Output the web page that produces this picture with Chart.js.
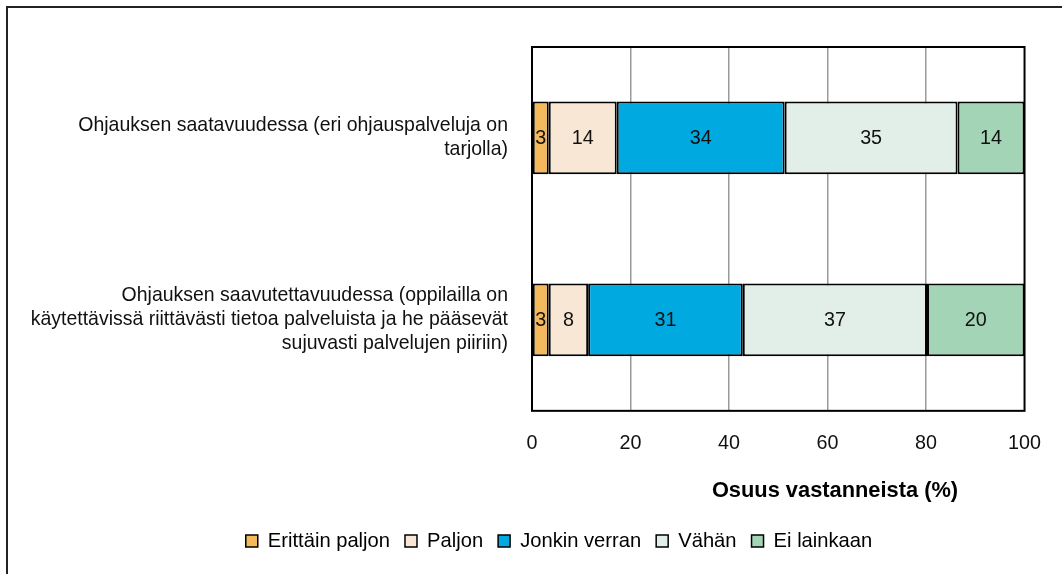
<!DOCTYPE html>
<html>
<head>
<meta charset="utf-8">
<script src="https://cdn.jsdelivr.net/npm/chart.js@4.4.1/dist/chart.umd.min.js"></script>
<style>
  html, body { margin: 0; padding: 0; background: #fff; }
  #wrap { position: relative; width: 1062px; height: 574px; }
</style>
</head>
<body>
<div id="wrap"><canvas id="c" width="1062" height="574"></canvas></div>
<script>
// ---- data ----
const categories = [
  ["Ohjauksen saatavuudessa (eri ohjauspalveluja on", "tarjolla)"],
  ["Ohjauksen saavutettavuudessa (oppilailla on", "käytettävissä riittävästi tietoa palveluista ja he pääsevät", "sujuvasti palvelujen piiriin)"]
];
const seriesNames = ["Erittäin paljon", "Paljon", "Jonkin verran", "Vähän", "Ei lainkaan"];
const erittainPaljon = [3.4, 3.4];
const paljon = [13.8, 8.0];
const jonkinVerran = [34.1, 31.4];
const vahan = [35.1, 37.4];
const eiLainkaan = [13.6, 19.8];
const xTicks = [0, 20, 40, 60, 80, 100];
const axisTitle = "Osuus vastanneista (%)";

const colors = ["#F4B95A", "#F8E7D5", "#00A9E0", "#E2EFE8", "#A2D4B5"];
const seriesValues = [erittainPaljon, paljon, jonkinVerran, vahan, eiLainkaan];

// pick a condensed font if available
function fontAvailable(name) {
  const c = document.createElement('canvas').getContext('2d');
  const s = 'Erittäin paljon vastanneista 0123456789';
  c.font = '40px monospace';
  const w1 = c.measureText(s).width;
  c.font = "40px '" + name + "', monospace";
  const w2 = c.measureText(s).width;
  return Math.abs(w1 - w2) > 0.5;
}
let FONT = "'Liberation Sans', Arial, sans-serif";
let K = 0.84;
for (const f of ['Liberation Sans Narrow', 'Arial Narrow']) {
  if (fontAvailable(f)) { FONT = "'" + f + "', 'Liberation Sans', sans-serif"; K = 1; break; }
}
const SZ_LABEL = 23.2 * K;
const SZ_TICK = 23.5 * K;
const SZ_DATA = 23.5 * K;
const SZ_LEGEND = 24 * K;
const SZ_TITLE = 26 * K;

const framePlugin = {
  id: 'frame',
  afterLayout(chart) {
    const lg = chart.legend;
    if (!lg) return;
    const itemH = Math.max(SZ_LEGEND, 12);
    const desiredTop = 541 - lg.options.labels.padding - itemH / 2;
    const dy = desiredTop - lg.top;
    lg.top += dy; lg.bottom += dy;
    const dx = 559 - (lg.left + lg.right) / 2;
    lg.left += dx; lg.right += dx;
  },
  beforeDraw(chart) {
    const ctx = chart.ctx;
    ctx.save();
    ctx.fillStyle = '#fff';
    ctx.fillRect(0, 0, chart.width, chart.height);
    ctx.strokeStyle = '#222';
    ctx.lineWidth = 2;
    ctx.beginPath();
    ctx.moveTo(7, chart.height);
    ctx.lineTo(7, 7);
    ctx.lineTo(chart.width, 7);
    ctx.stroke();
    ctx.restore();
  },
  beforeDatasetsDraw(chart) {
    const a = chart.chartArea;
    const ctx = chart.ctx;
    ctx.save();
    ctx.strokeStyle = '#000';
    ctx.lineWidth = 2;
    ctx.strokeRect(a.left, a.top, a.right - a.left, a.bottom - a.top);
    ctx.restore();
  },
  afterDatasetsDraw(chart) {
    const ctx = chart.ctx;
    ctx.save();
    ctx.font = SZ_DATA + "px " + FONT;
    ctx.fillStyle = '#111';
    ctx.textAlign = 'center';
    ctx.textBaseline = 'middle';
    chart.data.datasets.forEach((ds, i) => {
      const meta = chart.getDatasetMeta(i);
      meta.data.forEach((bar, j) => {
        const p = bar.getProps(['x', 'y', 'base'], true);
        const v = ds.data[j];
        ctx.fillText(String(Math.round(v)), (p.x + p.base) / 2, p.y + 1);
      });
    });
    ctx.font = "bold " + SZ_TITLE + "px " + FONT;
    ctx.fillStyle = '#000';
    ctx.fillText(axisTitle, 835, 491);
    ctx.restore();
  }
};

new Chart(document.getElementById('c'), {
  type: 'bar',
  data: {
    labels: categories,
    datasets: seriesNames.map((name, i) => ({
      label: name,
      data: seriesValues[i],
      backgroundColor: colors[i],
      borderColor: '#000',
      borderWidth: 2,
      borderSkipped: false,
      categoryPercentage: 0.8,
      barPercentage: 0.5
    }))
  },
  options: {
    indexAxis: 'y',
    responsive: false,
    animation: false,
    devicePixelRatio: 1,
    layout: { padding: { left: 10, right: 37, top: 47, bottom: 14 } },
    plugins: {
      tooltip: { enabled: false },
      legend: {
        position: 'bottom',
        labels: {
          font: { family: FONT, size: SZ_LEGEND },
          color: '#000',
          boxWidth: 12,
          boxHeight: 12,
          padding: 15,
          generateLabels(chart) {
            return chart.data.datasets.map((ds, i) => ({
              text: ds.label,
              fillStyle: ds.backgroundColor,
              strokeStyle: '#000',
              lineWidth: 1.5,
              hidden: false,
              datasetIndex: i,
              fontColor: '#000'
            }));
          }
        }
      }
    },
    scales: {
      x: {
        stacked: true,
        min: 0,
        max: 100,
        afterBuildTicks(scale) { scale.ticks = xTicks.map(v => ({ value: v })); },
        afterFit(scale) { scale.height = 104; },
        ticks: {
          font: { family: FONT, size: SZ_TICK },
          color: '#111',
          padding: 21
        },
        grid: {
          drawTicks: false,
          lineWidth: 1.5,
          color: ctx => (ctx.tick && (ctx.tick.value === 0 || ctx.tick.value === 100)) ? 'rgba(0,0,0,0)' : '#9a9a9a'
        },
        border: { display: false }
      },
      y: {
        stacked: true,
        afterFit(scale) { scale.width = 532 - 10; scale.paddingTop = 0; scale.paddingBottom = 0; },
        ticks: {
          font: { family: FONT, size: SZ_LABEL, lineHeight: 24 / SZ_LABEL },
          color: '#111',
          padding: 24
        },
        grid: { display: false, drawTicks: false },
        border: { display: false }
      }
    }
  },
  plugins: [framePlugin]
});
</script>
</body>
</html>
